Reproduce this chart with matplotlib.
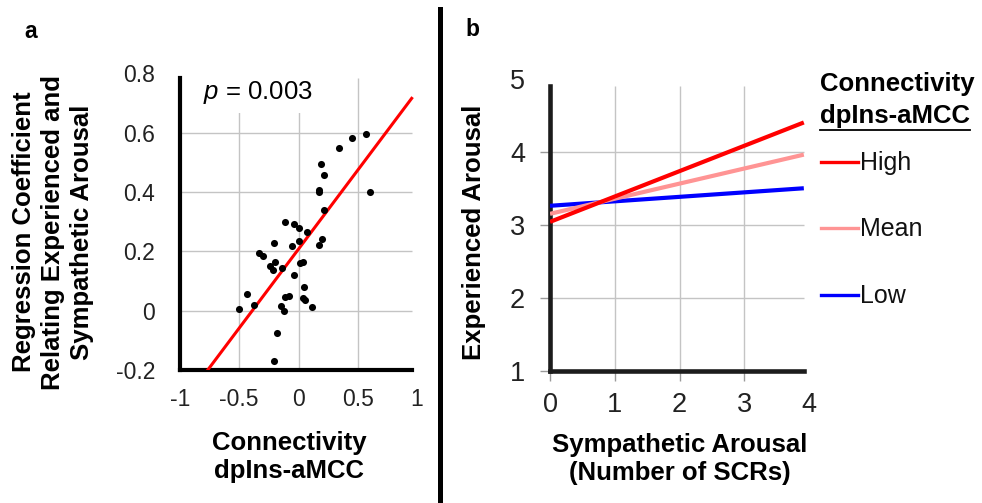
import matplotlib
matplotlib.use('Agg')
import matplotlib.pyplot as plt
import numpy as np
from matplotlib.lines import Line2D

plt.rcParams['font.family'] = ['Liberation Sans', 'DejaVu Sans']
plt.rcParams['mathtext.fontset'] = 'custom'
plt.rcParams['mathtext.it'] = 'Liberation Sans:italic'
plt.rcParams['mathtext.rm'] = 'Liberation Sans'

# ---------------- Panel a data ----------------
conn_x = [0.567, 0.453, 0.344, 0.193, 0.218, 0.170, 0.176, 0.603, 0.215, -0.117,
          -0.036, 0.000, 0.070, -0.209, 0.003, 0.196, 0.173, -0.059, -0.332, -0.296,
          -0.196, -0.237, -0.215, -0.140, 0.011, 0.036, -0.039, 0.050, 0.034, 0.059,
          0.115, -0.117, -0.081, -0.433, -0.374, -0.506, -0.145, -0.123, -0.179, -0.207]
reg_coef = [0.596, 0.581, 0.547, 0.494, 0.458, 0.408, 0.399, 0.401, 0.340, 0.298,
            0.292, 0.279, 0.266, 0.229, 0.235, 0.240, 0.221, 0.217, 0.193, 0.183,
            0.164, 0.149, 0.138, 0.145, 0.160, 0.163, 0.120, 0.079, 0.042, 0.037,
            0.011, 0.047, 0.049, 0.055, 0.019, 0.004, 0.015, -0.002, -0.075, -0.171]
fit_intercept = 0.2075
fit_slope = 0.532
p_label = r'$\mathit{p}$ = 0.003'
a_xticks = [-1, -0.5, 0, 0.5, 1]
a_xticklabels = ['-1', '-0.5', '0', '0.5', '1']
a_yticks = [-0.2, 0, 0.2, 0.4, 0.6, 0.8]
a_yticklabels = ['-0.2', '0', '0.2', '0.4', '0.6', '0.8']
a_xgrid = [-0.5, 0, 0.5]
a_ygrid = [0, 0.2, 0.4, 0.6]
a_xend = 0.955
a_yend = 0.785

# ---------------- Panel b data ----------------
scr_x = [0, 3.92]
series_names = ['High', 'Mean', 'Low']
series_vals = {
    'High': [3.04, 4.40],
    'Mean': [3.15, 3.96],
    'Low': [3.26, 3.50],
}
series_colors = {'High': '#ff0000', 'Mean': '#ff9494', 'Low': '#0000ff'}
b_xticks = [0, 1, 2, 3, 4]
b_yticks = [1, 2, 3, 4, 5]
b_xgrid = [1, 2, 3]
b_ygrid = [2, 3, 4]
b_xend = 3.92
b_yend = 4.9

W, H = 982, 503
fig = plt.figure(figsize=(W / 100, H / 100), dpi=100)

def fx(px):
    return px / W

def fy(py):
    return 1 - py / H

grid_c = '#c4c4c4'

# ---------------- Panel a ----------------
axA = fig.add_axes([fx(180), fy(370), (417 - 180) / W, (370 - 73.3) / H])
axA.set_xlim(-1, 1)
axA.set_ylim(-0.2, 0.8)
axA.vlines(a_xgrid, -0.2, a_yend, color=grid_c, lw=1, zorder=0)
axA.hlines(a_ygrid, -1, a_xend, color=grid_c, lw=1, zorder=0)
for s in ['top', 'right']:
    axA.spines[s].set_visible(False)
for s in ['left', 'bottom']:
    axA.spines[s].set_linewidth(3)
    axA.spines[s].set_color('black')
    axA.spines[s].set_capstyle('projecting')
axA.spines['left'].set_bounds(-0.2, a_yend)
axA.spines['bottom'].set_bounds(-1, a_xend)
axA.set_xticks(a_xticks)
axA.set_xticklabels(a_xticklabels)
axA.set_yticks(a_yticks)
axA.set_yticklabels(a_yticklabels)
axA.tick_params(axis='both', length=0, labelsize=16.5, colors='#222222')
axA.tick_params(axis='x', pad=13)
axA.tick_params(axis='y', pad=18)
fx_line = np.array([-1, a_xend])
axA.plot(fx_line, fit_intercept + fit_slope * fx_line, color='#ff0000', lw=2.2, zorder=3)
axA.scatter(conn_x, reg_coef, s=26, color='black', zorder=4, linewidths=0)
axA.text(-0.806, 0.734, p_label, fontsize=18.5, ha='left', va='center', zorder=5,
         bbox=dict(facecolor='white', edgecolor='none', pad=5))

fig.text(fx(53), fy(232), 'Regression Coefficient\nRelating Experienced and\nSympathetic Arousal',
         rotation=90, ha='center', va='center', fontsize=18.5, fontweight='bold',
         multialignment='center', linespacing=1.25)
fig.text(fx(289), fy(457), 'Connectivity\ndpIns-aMCC', ha='center', va='center',
         fontsize=18.5, fontweight='bold', multialignment='center', linespacing=1.2)
fig.text(fx(31), fy(31), 'a', ha='center', va='center', fontsize=16.5, fontweight='bold')

# ---------------- Panel b ----------------
axB = fig.add_axes([fx(550), fy(371), (809 - 550) / W, (371 - 78.6) / H])
axB.set_xlim(0, 4)
axB.set_ylim(1, 5)
axB.vlines(b_xgrid, 1, b_yend, color=grid_c, lw=1, zorder=0)
axB.hlines(b_ygrid, 0, b_xend, color=grid_c, lw=1, zorder=0)
for s in ['top', 'right']:
    axB.spines[s].set_visible(False)
for s in ['left', 'bottom']:
    axB.spines[s].set_linewidth(3.3)
    axB.spines[s].set_color('#1c1c1c')
    axB.spines[s].set_capstyle('projecting')
axB.spines['left'].set_bounds(1, b_yend)
axB.spines['bottom'].set_bounds(0, b_xend)
axB.set_xticks(b_xticks)
axB.set_xticklabels([str(v) for v in b_xticks])
axB.set_yticks(b_yticks)
axB.set_yticklabels([str(v) for v in b_yticks])
axB.tick_params(axis='both', direction='out', length=7, width=1, color='#9a9a9a',
                labelsize=19.5, labelcolor='#222222')
axB.tick_params(axis='x', pad=8)
axB.tick_params(axis='y', pad=11)
axB.xaxis.get_major_ticks()[-1].tick1line.set_visible(False)
axB.yaxis.get_major_ticks()[-1].tick1line.set_visible(False)
for name in ['Low', 'Mean', 'High']:
    axB.plot(scr_x, series_vals[name], color=series_colors[name], lw=3, zorder=3,
             solid_capstyle='butt')

fig.text(fx(474), fy(232), 'Experienced Arousal', rotation=90, ha='center', va='center',
         fontsize=18.5, fontweight='bold')
fig.text(fx(680), fy(459), 'Sympathetic Arousal\n(Number of SCRs)', ha='center', va='center',
         fontsize=18.5, fontweight='bold', multialignment='center', linespacing=1.25)
fig.text(fx(472), fy(29), 'b', ha='center', va='center', fontsize=16.5, fontweight='bold')

# legend
fig.text(fx(820), fy(84), 'Connectivity', ha='left', va='center', fontsize=18.5, fontweight='bold')
t2 = fig.text(fx(820), fy(116), 'dpIns-aMCC', ha='left', va='center', fontsize=18.5, fontweight='bold')
fig.canvas.draw()
bb = t2.get_window_extent(renderer=fig.canvas.get_renderer())
fig.add_artist(Line2D([fx(820), bb.x1 / W], [fy(130), fy(130)], color='black', lw=1.3))
leg_y = {'High': 162.3, 'Mean': 228.3, 'Low': 295}
for name in series_names:
    y = leg_y[name]
    fig.add_artist(Line2D([fx(821), fx(858)], [fy(y), fy(y)], color=series_colors[name], lw=2.4))
    fig.text(fx(860), fy(y + 1), name, ha='left', va='center', fontsize=18, color='#111111')

# divider
fig.add_artist(Line2D([fx(439.5), fx(439.5)], [0, fy(9)], color='black', lw=3.6))

fig.savefig('out.png', dpi=100)
